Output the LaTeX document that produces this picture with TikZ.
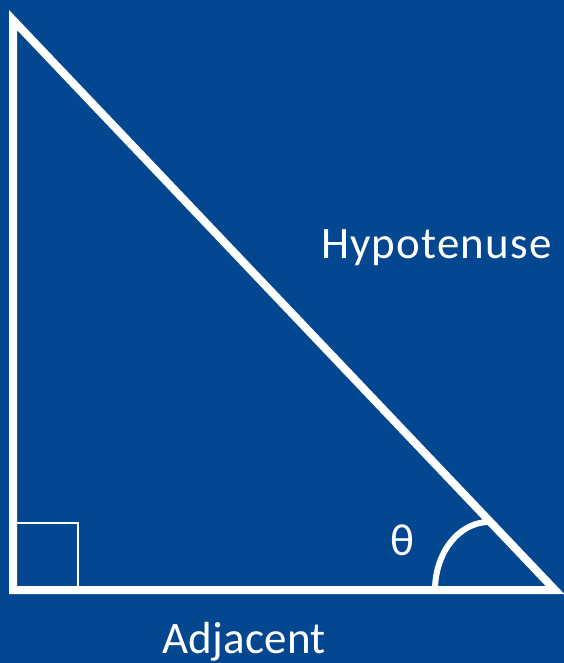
\documentclass[tikz,border=0pt]{standalone}
\usepackage{fontspec}
\setmainfont{Carlito}
\definecolor{bgblue}{RGB}{3,71,145}
\begin{document}
\begin{tikzpicture}[x=1pt,y=-1pt,
  edge/.style={draw=white,line width=8pt,line join=miter},
  thin/.style={draw=white,line width=2pt},
  arcline/.style={draw=white,line width=6pt},
  lbl/.style={text=white,font=\fontsize{45}{54}\selectfont,inner sep=0pt,anchor=base west}]
\fill[bgblue] (0,0) rectangle (564,663);
\useasboundingbox (0,0) rectangle (564,663);
\coordinate (A) at (13,20);
\coordinate (B) at (13,590);
\coordinate (C) at (555,590);
\draw[thin] (13,523) rectangle (78,590);
\draw[arcline] (435,590) arc[start angle=180,end angle=88,x radius=54,y radius=-68];
\draw[edge] (A) -- (B) -- (C) -- cycle;
\node[lbl] (hyp) at (321,258) {\addfontfeature{LetterSpace=2.6}Hypotenuse};
\node[lbl] (adj) at (162,653) {\addfontfeature{LetterSpace=0.6}Adjacent};
\node[lbl] (th) at (390,555) {θ};
\end{tikzpicture}
\end{document}
